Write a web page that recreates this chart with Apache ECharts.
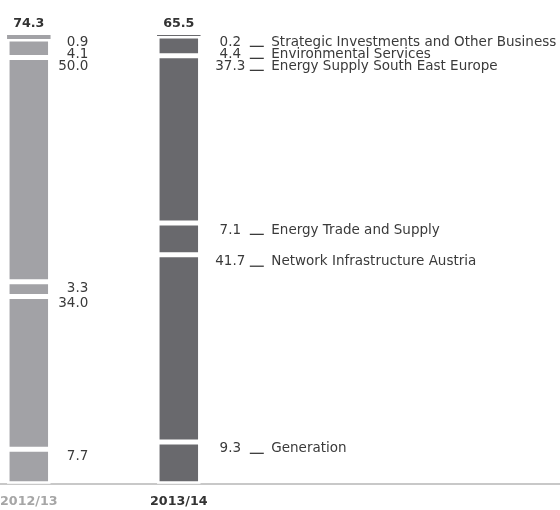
<!DOCTYPE html>
<html><head><meta charset="utf-8">
<script src="https://cdn.jsdelivr.net/npm/echarts@6/dist/echarts.min.js"></script>
<style>html,body{margin:0;padding:0;background:#fff}#c{width:560px;height:510px}</style>
</head><body><div id="c"></div>
<script>
// ---- data ----
const years = ['2012/13', '2013/14'];
const totals = [74.3, 65.5];
const segments = ['Generation', 'Network Infrastructure Austria', 'Energy Trade and Supply',
  'Energy Supply South East Europe', 'Environmental Services', 'Strategic Investments and Other Business'];
const share2012 = [7.7, 34.0, 3.3, 50.0, 4.1, 0.9];
const share2013 = [9.3, 41.7, 7.1, 37.3, 4.4, 0.2];

// ---- style ----
const FONT = 'DejaVu Sans';
const TXT = '#3a3a3a';
const barColors = ['#a2a2a6', '#69696d'];
const shares = [share2012, share2013];
const NUMW = 34;
const labelShift = [59.5, 68.5];

const chart = echarts.init(document.getElementById('c'), null, { renderer: 'canvas' });
let pos = null;

function labelLayout(p) {
  if (!pos || !pos[p.seriesIndex] || !pos[p.seriesIndex][p.dataIndex]) return {};
  const q = pos[p.seriesIndex][p.dataIndex];
  return { x: q.x, y: q.y, align: 'left', verticalAlign: 'middle' };
}

function buildSeries() {
  return segments.map((name, k) => ({
    type: 'bar',
    name: name,
    stack: 'total',
    xAxisIndex: 0,
    yAxisIndex: 0,
    barWidth: 43.5,
    z: k === segments.length - 1 ? 3 : 2,
    data: years.map((y, d) => ({
      value: shares[d][k],
      itemStyle: { color: barColors[d] }
    })),
    itemStyle: {
      borderColor: '#ffffff',
      borderWidth: k === segments.length - 1 ? 0 : 2.5
    },
    label: {
      show: true,
      position: 'inside',
      fontFamily: FONT,
      formatter: (p) => {
        const v = p.value.toFixed(1);
        if (p.dataIndex === 0) return '{v|' + v + '}';
        return '{v|' + v + '}{s1|}{ln|}{s|}{n|' + name + '}';
      },
      rich: {
        v: { width: NUMW, align: 'right', fontFamily: FONT, fontSize: 13.5, color: TXT, lineHeight: 10 },
        s1: { width: 2.5, lineHeight: 10 },
        s: { width: 7.5, lineHeight: 10 },
        ln: { width: 14, height: 1.3, backgroundColor: TXT, verticalAlign: 'bottom', lineHeight: 10 },
        n: { fontFamily: FONT, fontSize: 13.5, color: TXT, lineHeight: 10 }
      }
    },
    labelLayout: labelLayout,
    emphasis: { disabled: true },
    animation: false
  }));
}

const option = {
  animation: false,
  backgroundColor: '#ffffff',
  grid: [
    { left: 28.8, width: 150, top: 35, bottom: 26.3, containLabel: false, outerBoundsMode: 'none' },
    { left: 0, right: 0, top: 35, bottom: 26.3, containLabel: false, outerBoundsMode: 'none' }
  ],
  xAxis: [{
    type: 'category',
    gridIndex: 0,
    data: years,
    boundaryGap: false,
    position: 'bottom',
    axisLine: { show: false },
    axisTick: { show: false },
    splitLine: { show: false },
    axisLabel: {
      interval: 0,
      margin: 11,
      formatter: (v, i) => i === 0 ? '{a|' + v + '}' : '{b|' + v + '}',
      rich: {
        a: { fontFamily: FONT, fontWeight: 'bold', fontSize: 12.7, color: '#a6a6a6' },
        b: { fontFamily: FONT, fontWeight: 'bold', fontSize: 12.7, color: '#333333' }
      }
    }
  }, {
    type: 'category',
    gridIndex: 0,
    data: years,
    boundaryGap: false,
    position: 'top',
    axisLine: { show: false },
    axisTick: { show: false },
    splitLine: { show: false },
    axisLabel: {
      interval: 0,
      margin: 5,
      fontFamily: FONT,
      fontWeight: 'bold',
      fontSize: 12.7,
      color: '#333333',
      formatter: (v, i) => totals[i].toFixed(1)
    }
  }, {
    type: 'value',
    gridIndex: 1,
    position: 'bottom',
    axisLine: { show: true, lineStyle: { color: '#c8c8c8', width: 2 } },
    axisTick: { show: false },
    axisLabel: { show: false },
    splitLine: { show: false }
  }],
  yAxis: [
    { type: 'value', gridIndex: 0, min: 0, max: 100, show: false, splitLine: { show: false } },
    { type: 'value', gridIndex: 1, min: 0, max: 100, show: false, splitLine: { show: false } }
  ],
  series: buildSeries()
};

chart.setOption(option);

// label positions: near the top of each segment, pushed down to avoid overlap
pos = segments.map(() => []);
years.forEach((yr, d) => {
  const cx = chart.convertToPixel({ xAxisIndex: 0 }, d);
  let prev = -Infinity;
  for (let k = segments.length - 1; k >= 0; k--) {
    let cum = 0;
    for (let j = 0; j <= k; j++) cum += shares[d][j];
    const top = chart.convertToPixel({ yAxisIndex: 0 }, cum);
    const y = Math.max(top + 7, prev + 12);
    prev = y;
    pos[k][d] = { x: cx + labelShift[d] - NUMW, y: y };
  }
});
chart.setOption({ series: buildSeries() });
</script>
</body></html>
